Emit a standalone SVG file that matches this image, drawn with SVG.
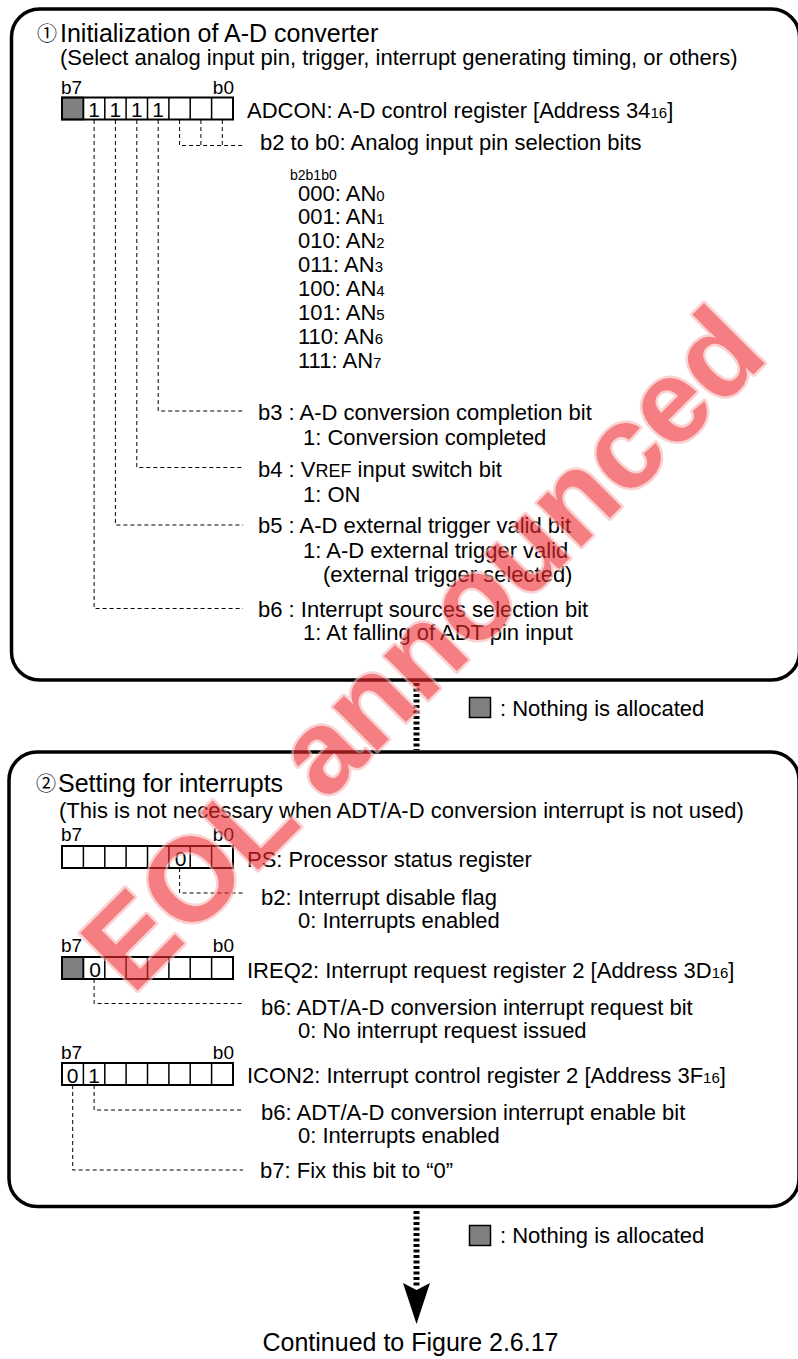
<svg xmlns="http://www.w3.org/2000/svg" width="798" height="1359" viewBox="0 0 798 1359">
<style>
text{font-family:"Liberation Sans",Arial,sans-serif;fill:#000}
.t{font-size:25px}
.b{font-size:22px}
.bl{font-size:19px}
.s{font-size:15px}
.cj{font-family:"Noto Sans CJK JP","DejaVu Sans",sans-serif;font-size:20px}
.panel{fill:none;stroke:#000;stroke-width:3.5}
.reg{fill:none;stroke:#000;stroke-width:2}
.cell{stroke:#000;stroke-width:1.5}
.gray{fill:#808080;stroke:#000;stroke-width:1.5}
.dash{fill:none;stroke:#000;stroke-width:1;stroke-dasharray:4 3}
.dot{stroke:#000;stroke-width:6;stroke-dasharray:3 2.5}
.bit{font-size:21px;text-anchor:middle}
.wm{font-family:"Liberation Sans",Arial,sans-serif;font-weight:bold;font-size:118px;fill:#ee2a2e;stroke:#f7b5b5;stroke-width:5;stroke-linejoin:round;paint-order:stroke}
</style>
<defs>
<g id="cells">
<path class="cell" d="M83.4,0V22M104.8,0V22M126.1,0V22M147.5,0V22M168.9,0V22M190.2,0V22M211.6,0V22"/>
<rect class="reg" x="62" y="0" width="171" height="22"/>
</g>
</defs>

<g id="panel1">
<rect class="panel" x="11.5" y="9" width="788" height="671" rx="28"/>
<text class="cj" x="37" y="41">①</text>
<text class="t" x="60" y="41.5">Initialization of A-D converter</text>
<text class="b" x="60" y="64.5">(Select analog input pin, trigger, interrupt generating timing, or others)</text>
</g>

<g id="adcon">
<text class="bl" x="61" y="94">b7</text>
<text class="bl" x="234" y="94" text-anchor="end">b0</text>
<rect class="gray" x="62" y="97.5" width="21.4" height="22" stroke="none"/>
<use href="#cells" y="97.5"/>
<text class="bit" x="94.1" y="117">1</text>
<text class="bit" x="115.4" y="117">1</text>
<text class="bit" x="136.8" y="117">1</text>
<text class="bit" x="158.2" y="117">1</text>
<text class="b" x="247" y="118">ADCON: A-D control register [Address 34<tspan class="s">16</tspan>]</text>
</g>

<g id="adcon-b2b0">
<text class="b" x="260" y="150">b2 to b0: Analog input pin selection bits</text>
<text x="290" y="180" font-size="14px">b2b1b0</text>
<text class="b" x="298" y="200.5">000: AN<tspan class="s">0</tspan></text>
<text class="b" x="298" y="224">001: AN<tspan class="s">1</tspan></text>
<text class="b" x="298" y="248">010: AN<tspan class="s">2</tspan></text>
<text class="b" x="298" y="272">011: AN<tspan class="s">3</tspan></text>
<text class="b" x="298" y="296">100: AN<tspan class="s">4</tspan></text>
<text class="b" x="298" y="320">101: AN<tspan class="s">5</tspan></text>
<text class="b" x="298" y="344">110: AN<tspan class="s">6</tspan></text>
<text class="b" x="298" y="368">111: AN<tspan class="s">7</tspan></text>
</g>

<g id="adcon-b3">
<text class="b" x="258" y="420">b3 : A-D conversion completion bit</text>
<text class="b" x="303" y="445">1: Conversion completed</text>
</g>
<g id="adcon-b4">
<text class="b" x="258" y="477">b4 : V<tspan font-size="18px">REF</tspan> input switch bit</text>
<text class="b" x="303" y="502">1: ON</text>
</g>
<g id="adcon-b5">
<text class="b" x="258" y="533">b5 : A-D external trigger valid bit</text>
<text class="b" x="303" y="558">1: A-D external trigger valid</text>
<text class="b" x="323" y="582">(external trigger selected)</text>
</g>
<g id="adcon-b6">
<text class="b" x="258" y="617">b6 : Interrupt sources selection bit</text>
<text class="b" x="303" y="640">1: At falling of ADT pin input</text>
</g>

<g id="legend1">
<rect class="gray" x="469.5" y="697.5" width="21" height="20"/>
<text class="b" x="500" y="716">: Nothing is allocated</text>
</g>

<g id="panel2">
<rect class="panel" x="9" y="752" width="790" height="454.5" rx="28"/>
<text class="cj" x="36" y="791">②</text>
<text class="t" x="58" y="792">Setting for interrupts</text>
<text class="b" x="59" y="818">(This is not necessary when ADT/A-D conversion interrupt is not used)</text>
</g>

<g id="ps">
<text class="bl" x="61" y="841">b7</text>
<text class="bl" x="234" y="841" text-anchor="end">b0</text>
<use href="#cells" y="846"/>
<text class="bit" x="180.5" y="865.5">0</text>
<text class="b" x="247" y="867">PS: Processor status register</text>
</g>
<g id="ps-b2">
<text class="b" x="261" y="905">b2: Interrupt disable flag</text>
<text class="b" x="298" y="928">0: Interrupts enabled</text>
</g>

<g id="ireq2">
<text class="bl" x="61" y="952">b7</text>
<text class="bl" x="234" y="952" text-anchor="end">b0</text>
<rect class="gray" x="62" y="957" width="21.4" height="22" stroke="none"/>
<use href="#cells" y="957"/>
<text class="bit" x="95" y="976.5">0</text>
<text class="b" x="247" y="978">IREQ2: Interrupt request register 2 [Address 3D<tspan class="s">16</tspan>]</text>
</g>
<g id="ireq2-b6">
<text class="b" x="261" y="1015">b6: ADT/A-D conversion interrupt request bit</text>
<text class="b" x="298" y="1038">0: No interrupt request issued</text>
</g>

<g id="icon2">
<text class="bl" x="61" y="1059">b7</text>
<text class="bl" x="234" y="1059" text-anchor="end">b0</text>
<use href="#cells" y="1063"/>
<text class="bit" x="72.7" y="1082.5">0</text>
<text class="bit" x="94.1" y="1082.5">1</text>
<text class="b" x="247" y="1083">ICON2: Interrupt control register 2 [Address 3F<tspan class="s">16</tspan>]</text>
</g>
<g id="icon2-b6">
<text class="b" x="261" y="1120">b6: ADT/A-D conversion interrupt enable bit</text>
<text class="b" x="298" y="1143">0: Interrupts enabled</text>
</g>
<g id="icon2-b7">
<text class="b" x="260" y="1178">b7: Fix this bit to “0”</text>
</g>

<g id="legend2">
<rect class="gray" x="469.5" y="1225.5" width="21" height="20"/>
<text class="b" x="500" y="1243">: Nothing is allocated</text>
</g>

<g id="continued">
<text x="410.5" y="1351" font-size="25px" text-anchor="middle">Continued to Figure 2.6.17</text>
</g>

<g id="connectors">
<path class="dash" d="M94.1,120V608.5H243"/>
<path class="dash" d="M115.4,120V525H243"/>
<path class="dash" d="M136.8,120V467.5H243"/>
<path class="dash" d="M158.2,120V411H243"/>
<path class="dash" d="M179.6,120V145.5H243M200.9,120V145.5M222.3,120V145.5"/>
<path class="dash" d="M179.6,868V893H243"/>
<path class="dash" d="M94.1,979V1003.5H243"/>
<path class="dash" d="M94.1,1085V1110H243"/>
<path class="dash" d="M72.7,1085V1170H243"/>
<line class="dot" x1="416.5" y1="683" x2="416.5" y2="750"/>
<line class="dot" x1="416.5" y1="1211" x2="416.5" y2="1288"/>
<path d="M403,1283L416.5,1290L430,1283L416.5,1324Z" fill="#000"/>
</g>

<g id="watermark" opacity="0.6">
<text class="wm" transform="translate(132,996) rotate(-45)">EOL announced</text>
</g>
</svg>
